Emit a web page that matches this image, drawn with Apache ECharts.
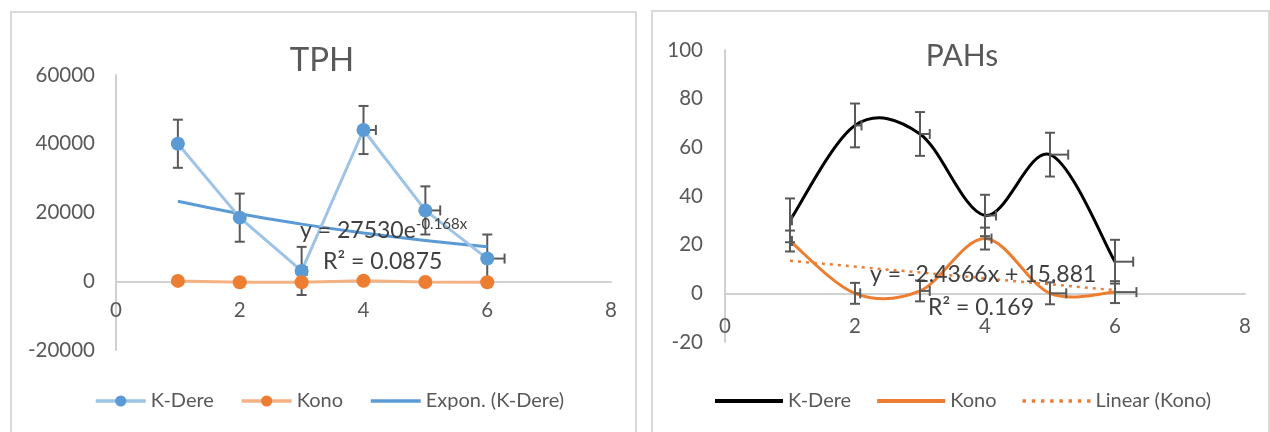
<!DOCTYPE html>
<html><head><meta charset="utf-8">
<script src="https://cdn.jsdelivr.net/npm/echarts@6/dist/echarts.min.js"></script>
<style>
html,body{margin:0;padding:0;background:#fff;width:1270px;height:432px;overflow:hidden;}
#c1{position:absolute;left:0;top:0;width:640px;height:432px;}
#c2{position:absolute;left:640px;top:0;width:630px;height:432px;}
</style></head><body>
<div id="c1"></div><div id="c2"></div>
<script>
// ---------- data ----------
const xs = [1, 2, 3, 4, 5, 6];
const xTicks = [0, 2, 4, 6, 8];

// TPH
const tphYTicks = [-20000, 0, 20000, 40000, 60000];
const tphKDere = [40000, 18500, 3000, 44000, 20600, 6600];
const tphKono = [100, -300, -300, 150, -200, -300];
const tphKDereErrY = [7000, 7000, 7000, 7000, 7000, 7000];
const tphKDereErrX = [0.06, 0.06, 0.08, 0.2, 0.24, 0.28];
const tphExpTrend = [23260, 19650, 16620, 14050, 11880, 10050];
const tphEq = 'y = 27530e';
const tphEqExp = '-0.168x';
const tphR2 = 'R² = 0.0875';

// PAHs
const pahYTicks = [-20, 0, 20, 40, 60, 80, 100];
const pahKDere = [30, 69, 65.5, 32, 57, 13];
const pahKono = [21.5, 0, 1, 22.5, 0, 0.5];
const pahKDereErrY = [9, 9, 9, 8.5, 9, 9];
const pahKonoErrY = [4.3, 4.3, 4.3, 4.5, 4.5, 4.5];
const pahKDereErrX = [0.03, 0.1, 0.15, 0.17, 0.28, 0.28];
const pahKonoErrX = [0.03, 0.08, 0.15, 0.1, 0.25, 0.33];
const pahLinTrendX = [1, 6];
const pahLinTrend = [13.4, 1.3];
const pahEq = 'y = -2.4366x + 15.881';
const pahR2 = 'R² = 0.169';

// ---------- helpers ----------
const FONT = 'Lato, "Open Sans", sans-serif';
const GRAY = '#595959';
const AX = '#D0D0D0';
const pairs = (xa, ya) => xa.map((x, i) => [x, ya[i]]);
const errData = (ya, ey, ex) => xs.map((x, i) => [x, ya[i], ey[i], ex[i]]);

function errRender(params, api) {
  const x = api.value(0), y = api.value(1), ey = api.value(2), ex = api.value(3);
  const t = api.coord([x, y + ey]), b = api.coord([x, y - ey]);
  const c = api.coord([x, y]), r = api.coord([x + ex, y]);
  const cap = 5;
  const st = { stroke: GRAY, lineWidth: 2 };
  const L = (x1, y1, x2, y2) => ({ type: 'line', shape: { x1, y1, x2, y2 }, style: st });
  return { type: 'group', children: [
    L(t[0], t[1], b[0], b[1]),
    L(t[0] - cap, t[1], t[0] + cap, t[1]),
    L(b[0] - cap, b[1], b[0] + cap, b[1]),
    L(c[0], c[1], r[0], r[1]),
    L(r[0], r[1] - cap, r[0], r[1] + cap)
  ]};
}

// Excel-like smoothed line (Catmull-Rom style bezier through the data points)
function smoothRender(vals, color, width) {
  return function (params, api) {
    const i = params.dataIndex, n = xs.length;
    if (i >= n - 1) return { type: 'group', children: [] };
    const P = k => { k = Math.max(0, Math.min(n - 1, k)); return api.coord([xs[k], vals[k]]); };
    const p0 = P(i - 1), p1 = P(i), p2 = P(i + 1), p3 = P(i + 2);
    return {
      type: 'bezierCurve',
      shape: {
        x1: p1[0], y1: p1[1], x2: p2[0], y2: p2[1],
        cpx1: p1[0] + (p2[0] - p0[0]) / 6, cpy1: p1[1] + (p2[1] - p0[1]) / 6,
        cpx2: p2[0] - (p3[0] - p1[0]) / 6, cpy2: p2[1] - (p3[1] - p1[1]) / 6
      },
      style: { stroke: color, lineWidth: width, fill: 'none' }
    };
  };
}

function xAxisCfg(margin) {
  return {
    type: 'value', min: xTicks[0], max: xTicks[xTicks.length - 1], interval: xTicks[1] - xTicks[0],
    axisLine: { onZero: true, lineStyle: { color: AX, width: 2 } },
    axisTick: { show: false }, splitLine: { show: false },
    axisLabel: { margin: margin, fontSize: 20.5, color: GRAY, fontFamily: FONT }
  };
}
function yAxisCfg(ticks, margin) {
  return {
    type: 'value', min: ticks[0], max: ticks[ticks.length - 1], interval: ticks[1] - ticks[0],
    axisLine: { show: true, onZero: false, lineStyle: { color: AX, width: 2 } },
    axisTick: { show: false }, splitLine: { show: false },
    axisLabel: { margin: margin, fontSize: 20.5, color: GRAY, fontFamily: FONT, formatter: v => String(v) }
  };
}
const legendText = { fontSize: 20, color: GRAY, fontFamily: FONT };
const thick = { width: 3.5 };

// ---------- TPH ----------
const c1 = echarts.init(document.getElementById('c1'), null, { renderer: 'canvas' });
c1.setOption({
  animation: false,
  grid: { left: 116, right: 29, top: 75, bottom: 82 },
  xAxis: xAxisCfg(-50),
  yAxis: yAxisCfg(tphYTicks, 21),
  legend: {
    left: 89, top: 386, itemWidth: 50, itemHeight: 14, itemGap: 26,
    textStyle: legendText, lineStyle: thick,
    data: [
      { name: 'K-Dere', lineStyle: thick },
      { name: 'Kono', lineStyle: thick },
      { name: 'Expon. (K-Dere)', lineStyle: thick, itemStyle: { opacity: 0 } }
    ]
  },
  graphic: [
    { type: 'rect', shape: { x: 11, y: 12, width: 625, height: 440 },
      style: { fill: 'none', stroke: '#D9D9D9', lineWidth: 2 }, silent: true },
    { type: 'text', x: 322, y: 60, style: { text: 'TPH', fontSize: 33, fontFamily: FONT, fill: GRAY, align: 'center', verticalAlign: 'middle' } },
    { type: 'text', x: 300, y: 231, z: 10, style: {
      text: '{m|' + tphEq + '}{s|' + tphEqExp + '}', align: 'left', verticalAlign: 'middle',
      rich: { m: { fontSize: 23, fontFamily: FONT, fill: '#404040', lineHeight: 28 },
              s: { fontSize: 15, fontFamily: FONT, fill: '#404040', verticalAlign: 'top' } } } },
    { type: 'text', x: 323, y: 262, z: 10, style: { text: tphR2, fontSize: 23, fontFamily: FONT, fill: '#404040', align: 'left', verticalAlign: 'middle' } }
  ],
  series: [
    { type: 'custom', name: 'errK', renderItem: errRender, z: 1, silent: true,
      data: errData(tphKDere, tphKDereErrY, tphKDereErrX) },
    { type: 'line', name: 'Expon. (K-Dere)', z: 2, data: pairs(xs, tphExpTrend), smooth: true,
      symbol: 'none', lineStyle: { color: '#5B9BD5', width: 3 }, itemStyle: { color: '#5B9BD5' } },
    { type: 'line', name: 'K-Dere', z: 3, data: pairs(xs, tphKDere), symbol: 'circle', symbolSize: 14,
      lineStyle: { color: '#9DC3E6', width: 3 }, itemStyle: { color: '#5B9BD5' } },
    { type: 'line', name: 'Kono', z: 4, data: pairs(xs, tphKono), symbol: 'circle', symbolSize: 14,
      lineStyle: { color: '#F4B183', width: 3 }, itemStyle: { color: '#ED7D31' } }
  ]
});

// ---------- PAHs ----------
const dots = 'path://' + [0, 8, 16, 24, 32, 40, 48, 56].map(d => 'M' + d + ',0h3v3h-3z').join(' ');
const c2 = echarts.init(document.getElementById('c2'), null, { renderer: 'canvas' });
c2.setOption({
  animation: false,
  grid: { left: 85, right: 25, top: 50, bottom: 90 },
  xAxis: xAxisCfg(-26),
  yAxis: yAxisCfg(pahYTicks, 22),
  legend: {
    left: 70, top: 386, itemWidth: 68, itemHeight: 4, itemGap: 26,
    textStyle: legendText,
    data: [
      { name: 'K-Dere', icon: 'rect', itemStyle: { color: '#000000' } },
      { name: 'Kono', icon: 'rect', itemStyle: { color: '#ED7D31' } },
      { name: 'Linear (Kono)', icon: dots, itemStyle: { color: '#ED7D31' } }
    ]
  },
  graphic: [
    { type: 'rect', shape: { x: 12, y: 11, width: 617, height: 440 },
      style: { fill: 'none', stroke: '#D9D9D9', lineWidth: 2 }, silent: true },
    { type: 'text', x: 322, y: 56, style: { text: 'PAHs', fontSize: 30, fontFamily: FONT, fill: GRAY, align: 'center', verticalAlign: 'middle' } },
    { type: 'text', x: 230, y: 275, z: 10, style: { text: pahEq, fontSize: 23, fontFamily: FONT, fill: '#404040', align: 'left', verticalAlign: 'middle' } },
    { type: 'text', x: 288, y: 308, z: 10, style: { text: pahR2, fontSize: 23, fontFamily: FONT, fill: '#404040', align: 'left', verticalAlign: 'middle' } }
  ],
  series: [
    { type: 'custom', name: 'K-Dere', z: 2, data: pairs(xs, pahKDere), silent: true,
      renderItem: smoothRender(pahKDere, '#000000', 3), itemStyle: { color: '#000000' } },
    { type: 'custom', name: 'Kono', z: 2, data: pairs(xs, pahKono), silent: true,
      renderItem: smoothRender(pahKono, '#ED7D31', 3), itemStyle: { color: '#ED7D31' } },
    { type: 'custom', name: 'errK', renderItem: errRender, z: 3, silent: true,
      data: errData(pahKDere, pahKDereErrY, pahKDereErrX) },
    { type: 'custom', name: 'errKo', renderItem: errRender, z: 3, silent: true,
      data: errData(pahKono, pahKonoErrY, pahKonoErrX) },
    { type: 'line', name: 'Linear (Kono)', z: 4, data: pairs(pahLinTrendX, pahLinTrend), symbol: 'none',
      lineStyle: { color: '#ED7D31', width: 2.5, type: [3, 5] }, itemStyle: { color: '#ED7D31' } }
  ]
});
</script>
</body></html>
